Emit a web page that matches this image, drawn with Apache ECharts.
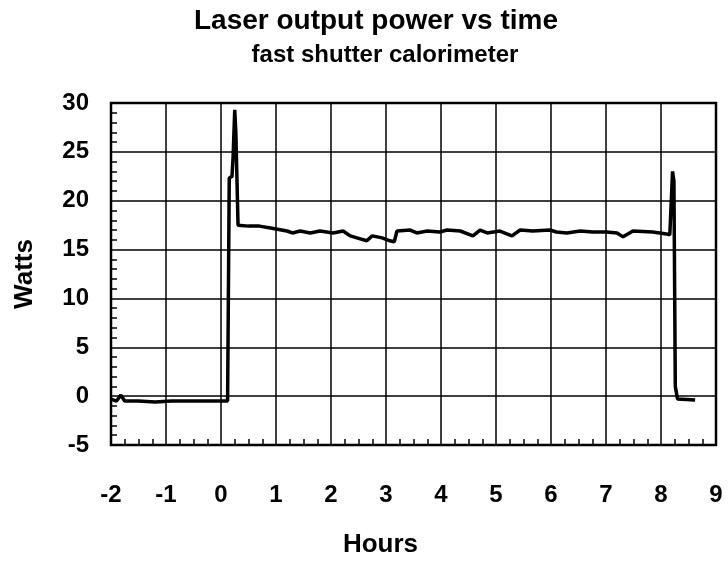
<!DOCTYPE html>
<html>
<head>
<meta charset="utf-8">
<script src="https://cdn.jsdelivr.net/npm/echarts@6/dist/echarts.min.js"></script>
<style>html,body{margin:0;padding:0;background:#fff;}#chart{width:728px;height:563px;}</style>
</head>
<body>
<div id="chart"></div>
<script>
var titleText = "Laser output power vs time";
var subtitleText = "fast shutter calorimeter";
var xName = "Hours";
var yName = "Watts";
var xTicks = [-2, -1, 0, 1, 2, 3, 4, 5, 6, 7, 8, 9];
var yTicks = [-5, 0, 5, 10, 15, 20, 25, 30];

var hours = [-2.0, -1.9, -1.82, -1.75, -1.5, -1.2, -0.9, -0.6, -0.3, 0.0, 0.12,
  0.15, 0.2, 0.22, 0.25, 0.27, 0.31, 0.5, 0.7, 0.9, 1.0, 1.1, 1.2, 1.3, 1.44,
  1.62, 1.8, 2.04, 2.22, 2.35, 2.47, 2.65, 2.75, 2.93, 3.07, 3.15, 3.2, 3.44,
  3.56, 3.75, 3.98, 4.11, 4.35, 4.58, 4.71, 4.84, 5.07, 5.29, 5.44, 5.67, 5.98,
  6.1, 6.29, 6.53, 6.76, 7.01, 7.2, 7.31, 7.49, 7.85, 8.1, 8.16, 8.21, 8.235,
  8.26, 8.3, 8.62];
var watts = [-0.3, -0.5, 0.1, -0.5, -0.5, -0.6, -0.5, -0.5, -0.5, -0.5, -0.5,
  22.3, 22.5, 24.5, 29.3, 27.0, 17.5, 17.4, 17.4, 17.2, 17.1, 17.0, 16.9, 16.7, 16.9,
  16.7, 16.9, 16.7, 16.9, 16.4, 16.2, 15.9, 16.4, 16.2, 15.9, 15.8, 16.9, 17.0,
  16.7, 16.9, 16.8, 17.0, 16.9, 16.4, 17.0, 16.7, 16.9, 16.4, 17.0, 16.9, 17.0,
  16.8, 16.7, 16.9, 16.8, 16.8, 16.7, 16.3, 16.9, 16.8, 16.6, 16.5, 23.0, 22.0,
  1.0, -0.3, -0.4];

var points = hours.map(function (h, i) { return [h, watts[i]]; });
var FONT = "Liberation Sans";

var chart = echarts.init(document.getElementById('chart'));
chart.setOption({
  backgroundColor: '#fff',
  animation: false,
  title: [
    { text: titleText, left: 371, top: 2, textAlign: 'center',
      textStyle: { fontFamily: FONT, fontWeight: 'bold', fontSize: 28, color: '#000' } },
    { text: subtitleText, left: 380, top: 38, textAlign: 'center',
      textStyle: { fontFamily: FONT, fontWeight: 'bold', fontSize: 24, color: '#000' } }
  ],
  grid: { left: 111, right: 12, top: 103, bottom: 114, show: true,
    borderColor: '#000', borderWidth: 2.5, backgroundColor: 'transparent' },
  xAxis: {
    type: 'value', min: xTicks[0], max: xTicks[xTicks.length - 1], interval: 1,
    name: xName, nameLocation: 'middle', nameGap: 87,
    nameTextStyle: { fontFamily: FONT, fontWeight: 'bold', fontSize: 26, color: '#000', padding: [0, 66, 0, 0] },
    axisLine: { show: false, onZero: false },
    axisTick: { show: false, inside: true },
    minorTick: { show: true, splitNumber: 4, length: 6, lineStyle: { color: '#000', width: 1.5 } },
    minorSplitLine: { show: false },
    splitLine: { show: true, lineStyle: { color: '#000', width: 1.5 } },
    axisLabel: { margin: 38, fontFamily: FONT, fontWeight: 'bold', fontSize: 24, color: '#000' }
  },
  yAxis: {
    type: 'value', min: yTicks[0], max: yTicks[yTicks.length - 1], interval: 5,
    name: yName, nameLocation: 'middle', nameGap: 73, nameRotate: 90,
    nameTextStyle: { fontFamily: FONT, fontWeight: 'bold', fontSize: 26, color: '#000' },
    axisLine: { show: false, onZero: false },
    axisTick: { show: false, inside: true },
    minorTick: { show: true, splitNumber: 5, length: 6, lineStyle: { color: '#000', width: 1.5 } },
    splitLine: { show: true, lineStyle: { color: '#000', width: 1.5 } },
    axisLabel: { margin: 22, fontFamily: FONT, fontWeight: 'bold', fontSize: 24, color: '#000' }
  },
  series: [{
    type: 'line', data: points, showSymbol: false, symbol: 'none',
    lineStyle: { color: '#000', width: 3.5 }, clip: true
  }]
});
</script>
</body>
</html>
